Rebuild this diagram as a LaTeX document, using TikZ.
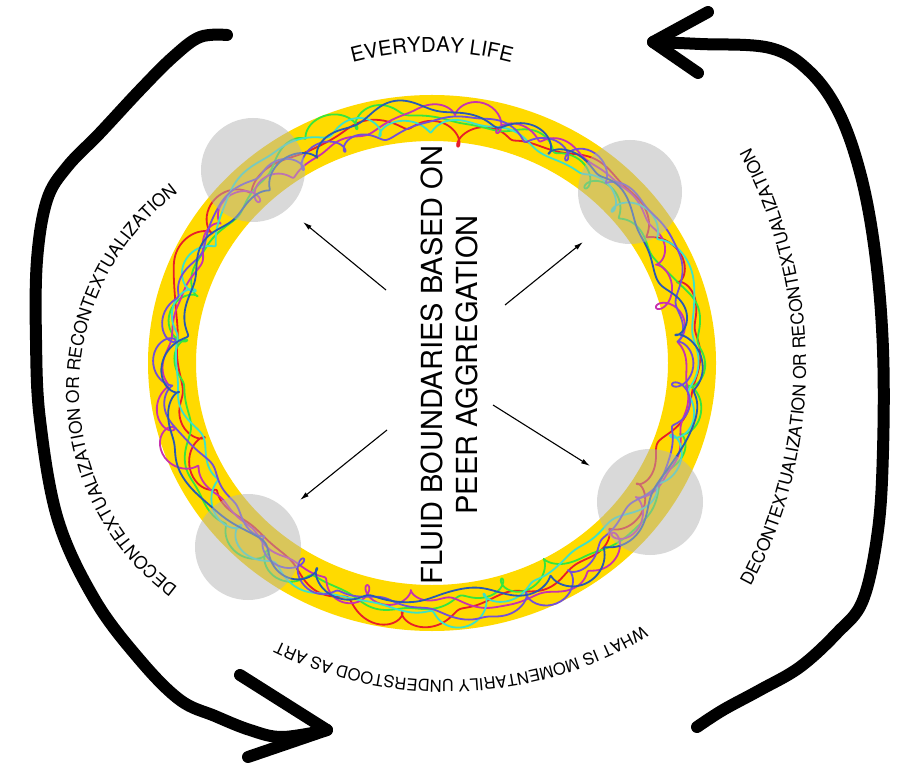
\documentclass[tikz,border=0pt]{standalone}
\usepackage{fontspec}
\setmainfont{TeX Gyre Heros}
\usetikzlibrary{decorations.text,arrows.meta,calc}
\definecolor{ringyellow}{RGB}{255,218,0}
\definecolor{spotgray}{RGB}{180,180,180}
\definecolor{scribred}{RGB}{232,30,40}
\definecolor{scribmag}{RGB}{200,50,175}
\definecolor{scribgreen}{RGB}{55,230,60}
\definecolor{scribcyan}{RGB}{60,225,200}
\definecolor{scribblue}{RGB}{40,90,180}
\definecolor{scribpurple}{RGB}{115,80,215}
\newcommand\lblfont{\fontsize{17.5}{17.5}\selectfont}
\begin{document}
\begin{tikzpicture}[x=1pt,y=1pt,
  bigarrow/.style={line width=12pt,line cap=round,line join=round,black},
  thinarrow/.style={line width=1.1pt,-{Latex[length=9pt,width=5pt]}},
  spot/.style={fill=spotgray,fill opacity=0.5},
  scrib/.style={line width=1.8pt,line join=round}]
\useasboundingbox (0,0) rectangle (909,769);
\fill[white] (0,0) rectangle (909,769);
\coordinate (C) at (432,406);
% yellow ring
\fill[ringyellow,even odd rule] (C) ellipse[x radius=284,y radius=268] (C) ellipse[x radius=236,y radius=222];
% scribbles
\foreach \col/\m/\p/\q/\r in {scribred/29/10/80/200, scribgreen/33/130/20/300, scribmag/37/250/170/40, scribcyan/31/60/290/150, scribpurple/35/320/230/100, scribblue/27/190/120/260}{
  \draw[scrib,\col] plot[domain=0:360,samples=900]
   ({432+(260+9*sin(3*\x+\p)+6*sin(7*\x+\q)+3*sin(13*\x+\r)+2*sin(21*\x+\p))*cos(\x)+(1+10*(sin(3*\x+\r))^6)*cos(\m*\x)},
    {406+(245+9*sin(3*\x+\p)+6*sin(7*\x+\q)+3*sin(13*\x+\r)+2*sin(21*\x+\p))*sin(\x)+(1+10*(sin(3*\x+\r))^6)*sin(\m*\x)});
}
% gray spots
\fill[spot] (253,599) circle[radius=52];
\fill[spot] (630,577) circle[radius=52];
\fill[spot] (248,222) circle[radius=53];
\fill[spot] (650,267) circle[radius=53];
% central text
\node[rotate=90,align=center,font=\fontsize{29}{35}\selectfont] (title) at (449,404) {FLUID BOUNDARIES BASED ON\\PEER AGGREGATION};
% thin arrows
\coordinate (ula) at (386,479); \coordinate (ulb) at (303,547);
\coordinate (ura) at (505,464); \coordinate (urb) at (583,527);
\coordinate (lla) at (387,339); \coordinate (llb) at (300,269);
\coordinate (lra) at (493,364); \coordinate (lrb) at (590,303);
\draw[thinarrow] (ula) -- (ulb);
\draw[thinarrow] (ura) -- (urb);
\draw[thinarrow] (lla) -- (llb);
\draw[thinarrow] (lra) -- (lrb);
% arc texts
\path[decorate,decoration={text along path,text align=center,text={|\fontsize{20.5}{20.5}\selectfont|EVERYDAY LIFE}}]
  ($(C)+(120:311)$) arc[start angle=120,end angle=60,radius=311];
\path[decorate,decoration={text along path,text align=center,text={|\lblfont|DECONTEXTUALIZATION OR RECONTEXTUALIZATION}}]
  ($(325,379)+(250:246)$) arc[start angle=250,end angle=110,radius=246];
\path[decorate,decoration={text along path,text align=center,text={|\lblfont|DECONTEXTUALIZATION OR RECONTEXTUALIZATION}}]
  ($(343,402)+(-35:463)$) arc[start angle=-35,end angle=35,radius=463];
\path[decorate,decoration={text along path,text align=center,text={|\fontsize{16.5}{16.5}\selectfont|WHAT IS MOMENTARILY UNDERSTOOD AS ART}}]
  ($(446,474)+(-50:385)$) arc[start angle=-50,end angle=-125,radius=385];
% big left arrow
\coordinate (Ls) at (227,734); \coordinate (Lt) at (327,39);
\coordinate (Lb1) at (240,94); \coordinate (Lb2) at (248,12);
\draw[bigarrow] plot[smooth,tension=0.6] coordinates {(Ls) (200,732) (173,712) (140,679) (100,636) (67,602) (47,569) (37,509) (36,429) (40,349) (58,249) (95,169) (140,109) (180,69) (215,53) (250,39) (282,32) (Lt)};
\draw[bigarrow] (Lb1) -- (Lt) -- (Lb2);
% big right arrow
\coordinate (Rs) at (697,42); \coordinate (Rt) at (653,727);
\coordinate (Rb1) at (708,757); \coordinate (Rb2) at (698,696);
\draw[bigarrow] plot[smooth,tension=0.6] coordinates {(Rs) (723,59) (760,79) (800,102) (837,136) (863,169) (878,239) (883,319) (883,419) (876,509) (862,589) (840,654) (810,697) (770,721) (700,725) (Rt)};
\draw[bigarrow] (Rb1) -- (Rt) -- (Rb2);
\end{tikzpicture}
\end{document}
